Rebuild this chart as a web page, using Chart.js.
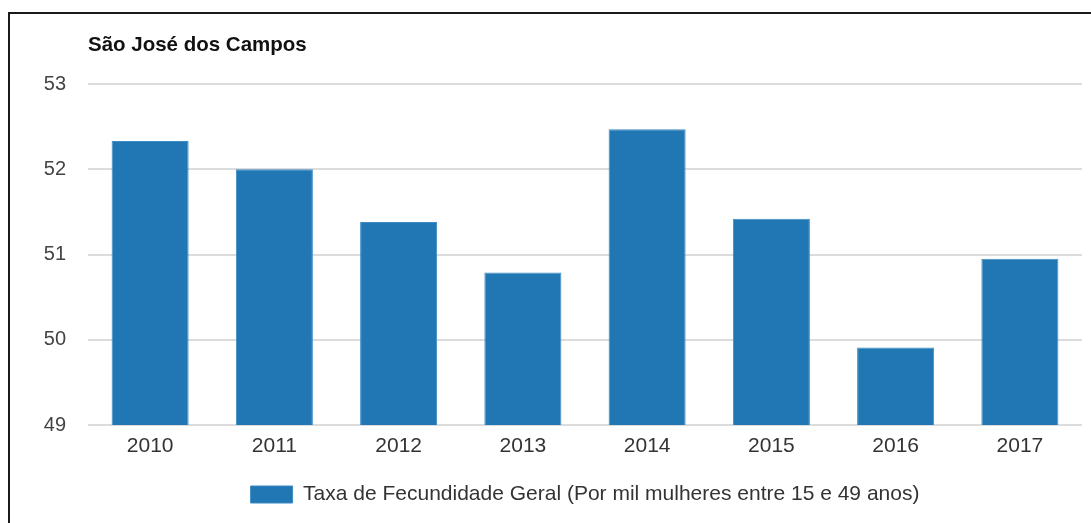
<!DOCTYPE html>
<html>
<head>
<meta charset="utf-8">
<script src="https://cdn.jsdelivr.net/npm/chart.js@4.4.1/dist/chart.umd.min.js"></script>
<style>
  html, body { margin: 0; padding: 0; background: #fff; }
  #wrap { position: relative; width: 1091px; height: 523px; overflow: hidden; }
  #frame { position: absolute; left: 8px; top: 12px; width: 1100px; height: 600px;
           border-top: 2px solid #1a1a1a; border-left: 2px solid #1a1a1a; }
  #c { position: absolute; left: 0; top: 0; }
</style>
</head>
<body>
<div id="wrap">
  <div id="frame"></div>
  <canvas id="c" width="1091" height="523"></canvas>
</div>
<script>
const chartTitle = "São José dos Campos";
const seriesName = "Taxa de Fecundidade Geral (Por mil mulheres entre 15 e 49 anos)";
const categories = ["2010", "2011", "2012", "2013", "2014", "2015", "2016", "2017"];
const values = [52.33, 52.0, 51.38, 50.79, 52.47, 51.42, 49.91, 50.95];
const yTicks = [49, 50, 51, 52, 53];

const FONT = "'Liberation Sans', Arial, sans-serif";

new Chart(document.getElementById('c'), {
  type: 'bar',
  data: {
    labels: categories,
    datasets: [{
      label: seriesName,
      data: values,
      backgroundColor: '#2077b4',
      borderColor: '#3d8bc4',
      borderWidth: 1,
      categoryPercentage: 1.0,
      barPercentage: 0.62
    }]
  },
  options: {
    responsive: false,
    animation: false,
    layout: { padding: { left: 0, right: 9, top: 15, bottom: 8 } },
    plugins: {
      title: {
        display: true,
        text: chartTitle,
        align: 'start',
        fullSize: false,
        color: '#111',
        font: { family: FONT, size: 20.5, weight: 'bold' },
        padding: { top: 18, bottom: 26.4 }
      },
      legend: {
        display: true,
        position: 'bottom',
        fullSize: false,
        labels: {
          color: '#333',
          font: { family: FONT, size: 21 },
          boxWidth: 42,
          boxHeight: 17,
          padding: 10
        }
      },
      tooltip: { enabled: false }
    },
    scales: {
      x: {
        grid: { display: false, drawTicks: false },
        border: { display: false },
        ticks: { color: '#333', font: { family: FONT, size: 21 }, padding: 8.4, maxRotation: 0 },
        afterFit: (s) => { s.height = 49; }
      },
      y: {
        min: yTicks[0],
        max: yTicks[yTicks.length - 1],
        afterBuildTicks: (s) => { s.ticks = yTicks.map(v => ({ value: v })); },
        grid: { color: '#dcdcdc', lineWidth: 2, drawTicks: false },
        border: { display: false },
        ticks: { color: '#444', font: { family: FONT, size: 20 }, padding: 22 },
        afterFit: (s) => { s.width = 88; }
      }
    }
  }
});
</script>
</body>
</html>
